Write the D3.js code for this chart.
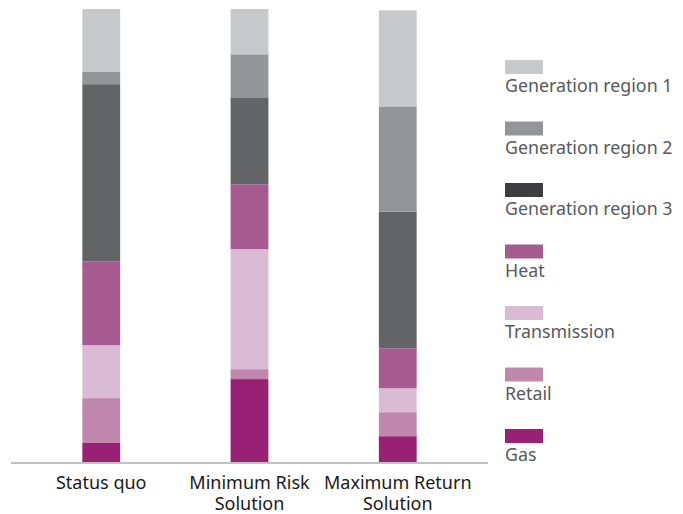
<!DOCTYPE html>
<html>
<head>
<meta charset="utf-8">
<script src="https://cdn.jsdelivr.net/npm/d3@7"></script>
<style>
    body { margin: 0; background: #fff; }
    svg { display: block; font-family: "Noto Sans", "Open Sans", sans-serif; }
</style>
</head>
<body>
<svg id="chart" width="683" height="514"></svg>
<script>
'use strict';

// categories (bottom label lines)
var categories = ["Status quo", "Minimum Risk Solution", "Maximum Return Solution"];
var categoryLines = [["Status quo"], ["Minimum Risk", "Solution"], ["Maximum Return", "Solution"]];

// series, stacked bottom to top (share in %)
var seriesNames = ["Gas", "Retail", "Transmission", "Heat", "Generation region 3", "Generation region 2", "Generation region 1"];
var gas = [4.2, 18.3, 5.7];
var retail = [9.9, 2.2, 5.3];
var transmission = [11.7, 26.5, 5.3];
var heat = [18.5, 14.3, 8.8];
var genRegion3 = [39.1, 19.2, 30.2];
var genRegion2 = [2.7, 9.5, 23.2];
var genRegion1 = [13.9, 10.0, 21.2];

// legend order, top to bottom
var legendNames = ["Generation region 1", "Generation region 2", "Generation region 3", "Heat", "Transmission", "Retail", "Gas"];

var barColors = {
    "Gas": "#982176",
    "Retail": "#c087ad",
    "Transmission": "#d9bbd4",
    "Heat": "#a65a8f",
    "Generation region 3": "#636466",
    "Generation region 2": "#949598",
    "Generation region 1": "#c8c9cb"
};
var legendColors = Object.assign({}, barColors, {"Generation region 3": "#3f3f41"});

var seriesValues = [gas, retail, transmission, heat, genRegion3, genRegion2, genRegion1];

var rows = categories.map(function(c, i) {
    var row = {category: c};
    seriesNames.forEach(function(s, j) {
        row[s] = seriesValues[j][i];
    });
    return row;
});

var svg = d3.select("#chart");

var x = d3.scaleBand()
    .domain(categories)
    .range([26, 473])
    .paddingInner(0.745)
    .paddingOuter(0.38);

var y = d3.scaleLinear()
    .domain([0, 100])
    .range([462, 9]);

var stack = d3.stack().keys(seriesNames);
var layers = stack(rows);

var gBars = svg.append("g").attr("class", "bars");

gBars.selectAll("g.layer")
    .data(layers)
    .enter()
    .append("g")
    .attr("class", "layer")
    .attr("fill", function(d) { return barColors[d.key]; })
    .selectAll("rect")
    .data(function(d) { return d; })
    .enter()
    .append("rect")
    .attr("x", function(d) { return x(d.data.category); })
    .attr("width", x.bandwidth())
    .attr("y", function(d) { return y(d[1]); })
    .attr("height", function(d) { return y(d[0]) - y(d[1]); });

// baseline
svg.append("line")
    .attr("x1", 11)
    .attr("x2", 488)
    .attr("y1", 463)
    .attr("y2", 463)
    .attr("stroke", "#adadad")
    .attr("stroke-width", 1.5);

// category labels
var gLabels = svg.append("g").attr("class", "xlabels");
categories.forEach(function(c, i) {
    var text = gLabels.append("text")
        .attr("text-anchor", "middle")
        .attr("fill", "#1a1a1a")
        .attr("font-size", "18px");
    categoryLines[i].forEach(function(line, k) {
        text.append("tspan")
            .attr("x", x(c) + x.bandwidth() / 2)
            .attr("y", 489 + k * 21)
            .text(line);
    });
});

// legend
var legend = svg.append("g")
    .attr("class", "legend")
    .attr("transform", "translate(505,60)");

var entries = legend.selectAll("g.entry")
    .data(legendNames)
    .enter()
    .append("g")
    .attr("class", "entry")
    .attr("transform", function(d, i) { return "translate(0," + (i * 61.5) + ")"; });

entries.append("rect")
    .attr("width", 38)
    .attr("height", 14)
    .attr("fill", function(d) { return legendColors[d]; });

entries.append("text")
    .attr("x", 0)
    .attr("y", 32)
    .attr("fill", "#58595b")
    .attr("font-size", "17.8px")
    .text(function(d) { return d; });
</script>
</body>
</html>
